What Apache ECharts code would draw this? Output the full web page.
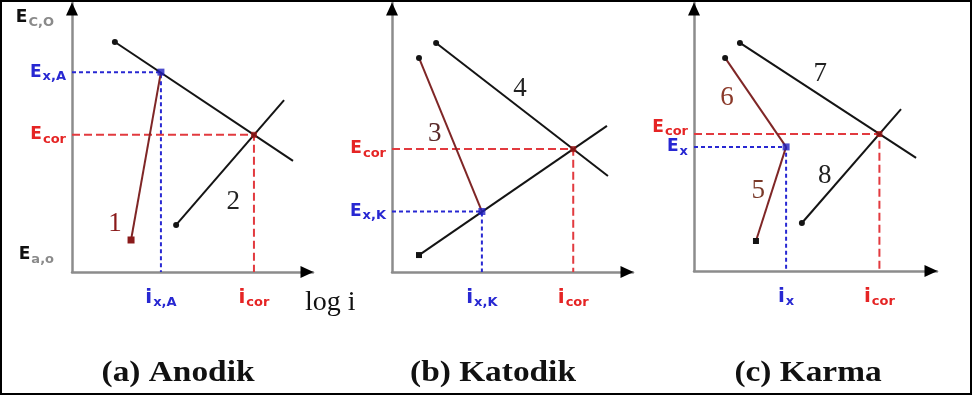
<!DOCTYPE html>
<html>
<head>
<meta charset="utf-8">
<script src="https://cdn.jsdelivr.net/npm/echarts@6/dist/echarts.min.js"></script>
<style>
  html, body { margin: 0; padding: 0; background: #fff; }
  #chart { width: 974px; height: 401px; }
</style>
</head>
<body>
<div id="chart"></div>
<script>
// Evans diagrams (potential E against log i) for three kinds of control.
// Both axes use arbitrary units from 0 to 10.

// (a) Anodik
const a_curve1  = [[2.45, 1.19], [3.69, 7.43]];
const a_cathode = [[1.78, 8.55], [9.17, 4.13]];
const a_curve2  = [[4.32, 1.75], [8.80, 6.39]];
const a_cor = [7.55, 5.10];           // i_cor, E_cor
const a_mix = [3.69, 7.43];           // i_x,A, E_x,A
const a_yTicks = [9.45, 7.43, 5.10, 0.63];
const a_ySubs  = ['C,O', 'x,A', 'cor', 'a,o'];
const a_xTicks = [3.69, 7.55];
const a_xSubs  = ['x,A', 'cor'];

// (b) Katodik
const b_curve3 = [[1.12, 7.96], [3.73, 2.25]];
const b_curve4 = [[1.83, 8.51], [8.96, 3.57]];
const b_anode  = [[1.12, 0.63], [8.92, 5.43]];
const b_cor = [7.52, 4.57];
const b_mix = [3.73, 2.25];
const b_yTicks = [4.57, 2.25];
const b_ySubs  = ['cor', 'x,K'];
const b_xTicks = [3.73, 7.52];
const b_xSubs  = ['x,K', 'cor'];

// (c) Karma
const c_curve7 = [[1.89, 8.51], [9.14, 4.22]];
const c_curve6 = [[1.28, 7.95], [3.79, 4.63]];
const c_curve5 = [[2.55, 1.12], [3.79, 4.63]];
const c_curve8 = [[4.44, 1.79], [8.52, 6.04]];
const c_cor = [7.63, 5.11];
const c_mix = [3.79, 4.63];
const c_yTicks = [5.37, 4.63];
const c_ySubs  = ['cor', 'x'];
const c_xTicks = [3.79, 7.63];
const c_xSubs  = ['x', 'cor'];

const captions = ['(a) Anodik', '(b) Katodik', '(c) Karma'];

// ---- styling ----
const SANS = 'DejaVu Sans';
const SERIF = 'Liberation Serif';
const INK = '#141414';
const BROWN = '#7f2626';
const BLUE = '#2828d2';
const RED = '#e23a3f';
const COR_DOT = '#9a1515';

const tones = {
  plain: { main: '#111111', sub: '#8a8a8a' },
  mix:   { main: BLUE, sub: BLUE },
  cor:   { main: '#e52424', sub: '#e52424' }
};

function buildRich(letter, mainSize, subSize, lineH, plainGap) {
  const r = {};
  Object.keys(tones).forEach(function (k) {
    r[letter + '_' + k] = { fontFamily: SANS, fontWeight: 'bold', fontSize: mainSize, color: tones[k].main, lineHeight: lineH };
    r['s_' + k] = { fontFamily: SANS, fontWeight: 'bold', fontSize: subSize, color: tones[k].sub, verticalAlign: 'bottom', padding: [0, 0, 0, 1] };
  });
  r.s_plain.padding = [0, plainGap, 0, 1];
  return r;
}

function tickLabel(letter, ticks, subs) {
  return function (val) {
    let k = 0, best = Infinity;
    ticks.forEach(function (t, j) {
      const d = Math.abs(t - val);
      if (d < best) { best = d; k = j; }
    });
    const sub = subs[k];
    const tone = sub === 'cor' ? 'cor' : (sub.charAt(0) === 'x' ? 'mix' : 'plain');
    return '{' + letter + '_' + tone + '|' + letter + '}{s_' + tone + '|' + sub + '}';
  };
}

const dot = { symbol: 'circle', size: 6, color: INK };
const sq  = { symbol: 'rect', size: 6, color: INK };

const panels = [
  {
    grid: { left: 72, top: 3, width: 241, height: 269 },
    yTicks: a_yTicks, ySubs: a_ySubs, xTicks: a_xTicks, xSubs: a_xSubs,
    cor: a_cor, mix: a_mix, axisName: 'log i',
    curves: [
      { pts: a_curve1, color: BROWN, start: { symbol: 'rect', size: 7, color: '#8a1a1a' },
        tag: { text: '1', t: 0, dx: -16, dy: -16, color: '#8a1a1a' } },
      { pts: a_cathode, color: INK, start: dot },
      { pts: a_curve2, color: INK, start: dot, tag: { text: '2', t: 0.4, dx: 14, dy: 27, color: '#222' } }
    ]
  },
  {
    grid: { left: 392, top: 3, width: 241, height: 269 },
    yTicks: b_yTicks, ySubs: b_ySubs, xTicks: b_xTicks, xSubs: b_xSubs,
    cor: b_cor, mix: b_mix,
    curves: [
      { pts: b_curve3, color: BROWN, start: dot, tag: { text: '3', t: 0.49, dx: -15, dy: 1, color: '#5a2a2a' } },
      { pts: b_curve4, color: INK, start: dot, tag: { text: '4', t: 0.5, dx: -2, dy: -21, color: '#222' } },
      { pts: b_anode, color: INK, start: sq }
    ]
  },
  {
    grid: { left: 694, top: 3, width: 243, height: 268 },
    yTicks: c_yTicks, ySubs: c_ySubs, xTicks: c_xTicks, xSubs: c_xSubs,
    cor: c_cor, mix: c_mix,
    curves: [
      { pts: c_curve7, color: INK, start: dot, tag: { text: '7', t: 0.45, dx: 1, dy: -21, color: '#222' } },
      { pts: c_curve6, color: BROWN, start: dot, tag: { text: '6', t: 0.44, dx: -25, dy: 1, color: '#8b3a2a' } },
      { pts: c_curve5, color: BROWN, start: sq, tag: { text: '5', t: 0.54, dx: -14, dy: 1, color: '#7a3a2a' } },
      { pts: c_curve8, color: INK, start: dot, tag: { text: '8', t: 0.3, dx: -7, dy: -13, color: '#222' } }
    ]
  }
];

const grids = [], xAxes = [], yAxes = [], series = [];

const hideBits = { axisTick: { show: false }, splitLine: { show: false } };

panels.forEach(function (p, g) {
  grids.push(Object.assign({ containLabel: false }, p.grid));

  // visible axes with symbolic tick labels
  xAxes.push(Object.assign({
    gridIndex: g, type: 'value', min: 0, max: 10, position: 'bottom',
    axisLine: { show: true, onZero: false, lineStyle: { color: '#8c8c8c', width: 2.5 } },
    axisLabel: { show: true, customValues: p.xTicks, margin: 15, formatter: tickLabel('i', p.xTicks, p.xSubs), rich: buildRich('i', 20, 13, 22, 0) },
    name: p.axisName || '', nameLocation: 'end', nameGap: -8,
    nameTextStyle: { fontFamily: SERIF, fontSize: 28, color: '#111', verticalAlign: 'top', lineHeight: 30, padding: [16, 0, 0, 0] }
  }, hideBits));
  yAxes.push(Object.assign({
    gridIndex: g, type: 'value', min: 0, max: 10, position: 'left',
    axisLine: { show: true, onZero: false, lineStyle: { color: '#8c8c8c', width: 2.5 } },
    axisLabel: { show: true, customValues: p.yTicks, margin: 6, formatter: tickLabel('E', p.yTicks, p.ySubs), rich: buildRich('E', 17, 13, 22, 12) }
  }, hideBits));
});

// arrow heads drawn by a second, line-less axis pair on each grid
panels.forEach(function (p, g) {
  const arrowLine = { show: true, onZero: false, symbol: ['none', 'triangle'], symbolSize: [12, 13], symbolOffset: [0, -6], lineStyle: { color: '#000', width: 0 } };
  xAxes.push(Object.assign({ gridIndex: g, type: 'value', min: 0, max: 10, position: 'bottom', axisLine: arrowLine, axisLabel: { show: false } }, hideBits));
  yAxes.push(Object.assign({ gridIndex: g, type: 'value', min: 0, max: 10, position: 'left', axisLine: arrowLine, axisLabel: { show: false } }, hideBits));
});

function lerp(pts, t) {
  return [pts[0][0] + (pts[1][0] - pts[0][0]) * t, pts[0][1] + (pts[1][1] - pts[0][1]) * t];
}

function endPoint(pt, spec) {
  if (!spec) return { value: pt, symbol: 'none' };
  return { value: pt, symbol: spec.symbol, symbolSize: spec.size, itemStyle: { color: spec.color } };
}

panels.forEach(function (p, g) {
  const ax = { xAxisIndex: g, yAxisIndex: g };

  // dashed guides to the axes
  series.push(Object.assign({
    type: 'line', silent: true, symbol: 'none', z: 2,
    lineStyle: { color: BLUE, width: 2, type: [4, 3] },
    data: [[0, p.mix[1]], [p.mix[0], p.mix[1]], [p.mix[0], 0]]
  }, ax));
  series.push(Object.assign({
    type: 'line', silent: true, symbol: 'none', z: 2,
    lineStyle: { color: RED, width: 2, type: [8, 4] },
    data: [[0, p.cor[1]], [p.cor[0], p.cor[1]], [p.cor[0], 0]]
  }, ax));

  // polarisation curves
  p.curves.forEach(function (c) {
    const s = Object.assign({
      type: 'line', silent: true, z: 3,
      lineStyle: { color: c.color, width: 2 },
      itemStyle: { color: c.color },
      data: [endPoint(c.pts[0], c.start), endPoint(c.pts[1], c.end)]
    }, ax);
    if (c.tag) {
      s.markPoint = {
        silent: true, symbol: 'circle', symbolSize: 0,
        itemStyle: { color: 'rgba(0,0,0,0)' },
        label: { show: true, formatter: '{b}', offset: [c.tag.dx, c.tag.dy], fontFamily: SERIF, fontSize: 27, color: c.tag.color },
        data: [{ name: c.tag.text, coord: lerp(c.pts, c.tag.t) }]
      };
    }
    series.push(s);
  });

  // mixed-potential point and corrosion point
  series.push(Object.assign({
    type: 'scatter', silent: true, z: 4, symbol: 'rect', symbolSize: 7,
    itemStyle: { color: '#2020c0' }, data: [p.mix]
  }, ax));
  series.push(Object.assign({
    type: 'scatter', silent: true, z: 4, symbol: 'rect', symbolSize: 6,
    itemStyle: { color: COR_DOT }, data: [p.cor]
  }, ax));
});

const captionX = [178, 493, 808];
const graphics = [
  { type: 'rect', silent: true, z: 100, shape: { x: 1, y: 1, width: 970, height: 393 },
    style: { fill: 'none', stroke: '#000', lineWidth: 2 } }
];
captions.forEach(function (txt, k) {
  graphics.push({
    type: 'text', silent: true, x: captionX[k], y: 374, scaleX: 1.15,
    style: { text: txt, fontFamily: SERIF, fontWeight: 'bold', fontSize: 29, fill: '#111', align: 'center', verticalAlign: 'middle' }
  });
});

const chart = echarts.init(document.getElementById('chart'), null, { renderer: 'canvas' });
chart.setOption({
  animation: false,
  backgroundColor: '#ffffff',
  grid: grids,
  xAxis: xAxes,
  yAxis: yAxes,
  series: series,
  graphic: graphics
});
</script>
</body>
</html>
